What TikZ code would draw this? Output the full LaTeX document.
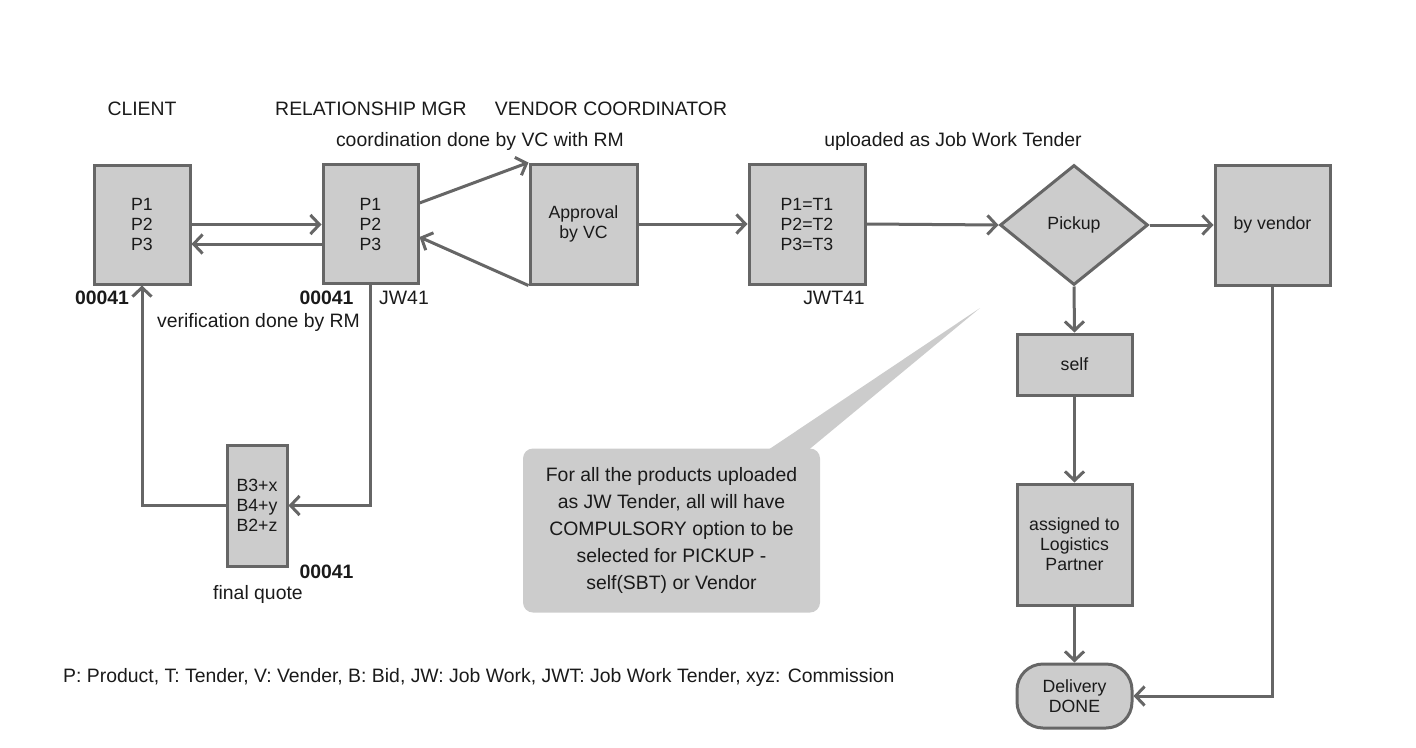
\documentclass[tikz,border=0pt]{standalone}
\usepackage{fontspec}
\setmainfont{Liberation Sans}
\usetikzlibrary{arrows.meta,shapes.geometric}
\definecolor{lg}{HTML}{666666}
\definecolor{bg}{HTML}{CCCCCC}
\definecolor{tx}{HTML}{1A1A1A}
\newcommand\lblfont{\fontsize{19.4}{23}\selectfont}
\newcommand\bxfont{\fontsize{17.7}{20}\selectfont}
\newcommand\ntfont{\fontsize{19.4}{26.8}\selectfont}
\tikzset{
  box/.style={draw=lg, fill=bg, line width=3pt, inner sep=0pt, align=center, font=\bxfont, text=tx},
  lbl/.style={inner sep=0pt, font=\lblfont, text=tx},
  bld/.style={inner sep=0pt, font=\lblfont\bfseries, text=tx},
  arr/.style={draw=lg, line width=3pt, -{Straight Barb[length=9pt,width=19pt]}},
  ln/.style={draw=lg, line width=3pt},
}
\begin{document}
\begin{tikzpicture}[x=1pt,y=-1pt]
\useasboundingbox (0,0) rectangle (1416,747);
% headers
\node[lbl] (hclient) at (142,109) {CLIENT};
\node[lbl] (hrm) at (371,109) {RELATIONSHIP MGR};
\node[lbl] (hvc) at (611,109) {VENDOR COORDINATOR};
\node[lbl] (hcoord) at (480,141) {coordination done by VC with RM};
\node[lbl] (hup) at (953,141) {uploaded as Job Work Tender};
% boxes
\node[box, minimum width=96pt, minimum height=119pt] (client) at (142,224.5) {P1\\P2\\P3};
\node[box, minimum width=95pt, minimum height=119pt] (rm) at (370.5,224) {P1\\P2\\P3};
\node[box, minimum width=107pt, minimum height=120pt] (appr) at (583.5,224) {Approval\\by VC};
\node[box, minimum width=116pt, minimum height=120pt] (tend) at (807,224) {P1=T1\\P2=T2\\P3=T3};
\node[box, diamond, minimum width=148pt, minimum height=120pt] (pick) at (1074,225) {Pickup};
\node[box, minimum width=115pt, minimum height=120pt] (vend) at (1272.5,225) {by vendor};
\node[box, minimum width=115pt, minimum height=61pt] (self) at (1074.5,364.5) {self};
\node[box, minimum width=115pt, minimum height=121pt] (assg) at (1074.5,544.5) {assigned to\\Logistics\\Partner};
\node[box, rounded corners=26pt, minimum width=115pt, minimum height=64pt] (deliv) at (1074.5,696) {Delivery\\DONE};
\node[box, minimum width=60pt, minimum height=121pt] (bid) at (257,505.5) {B3+x\\B4+y\\B2+z};
% small labels
\node[bld] (id1) at (102,298) {00041};
\node[bld] (id2) at (326.5,298) {00041};
\node[lbl] (jw) at (404,298) {JW41};
\node[lbl] (verif) at (258.5,322) {verification done by RM};
\node[lbl] (jwt) at (834,298) {JWT41};
\node[bld] (id3) at (326.5,572) {00041};
\node[lbl] (fq) at (258,594) {final quote};
\node[lbl, anchor=west] (legend) at (63,677) {P: Product, T: Tender, V: Vender, B: Bid, JW: Job Work, JWT: Job Work Tender, xyz: Commission};
% callout
\fill[bg] (765,452) -- (980,308) -- (806,452) -- cycle;
\node[fill=bg, rounded corners=10pt, minimum width=297pt, minimum height=164pt, inner sep=0pt, align=center, font=\ntfont, text=tx] (note) at (671.5,530.5) {For all the products uploaded\\as JW Tender, all will have\\COMPULSORY option to be\\selected for PICKUP -\\self(SBT) or Vendor};
% connector helper points
\coordinate (rmlo) at ([yshift=-20pt]rm.west);
\coordinate (rmhi) at ([yshift=21pt]rm.east);
\coordinate (rmin) at ([yshift=-13pt]rm.east);
% connectors
\draw[arr] (client.east) -- (rm.west |- client.east);
\draw[arr] (rmlo) -- (client.east |- rmlo);
\draw[arr] (rmhi) -- (appr.north west);
\draw[arr] (appr.south west) -- (rmin);
\draw[arr] (appr.east) -- (tend.west);
\draw[arr] (tend.east) -- (pick.west);
\draw[arr] (pick.east) -- (vend.west);
\draw[arr] (pick.south) -- (self.north);
\draw[arr] (self.south) -- (assg.north);
\draw[arr] (assg.south) -- (deliv.north);
\draw[arr] (vend.south) |- (deliv.east);
\draw[arr] (rm.south) |- (bid.east);
\draw[arr] (bid.west) -| (client.south);
\end{tikzpicture}
\end{document}
